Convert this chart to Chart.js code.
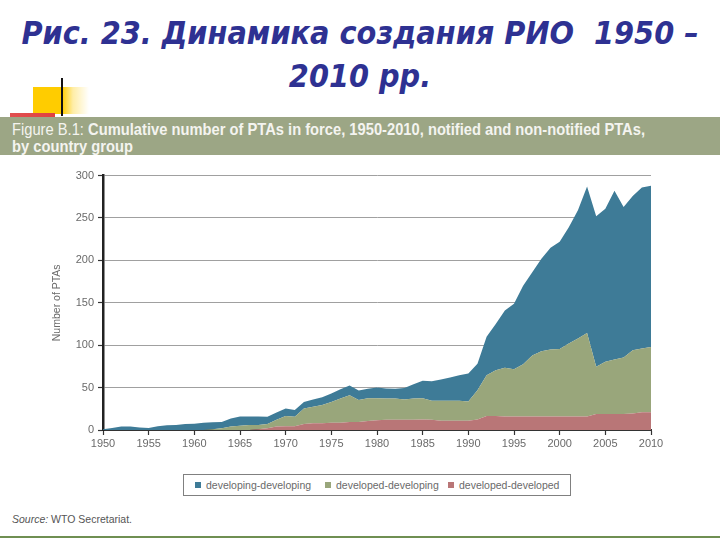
<!DOCTYPE html>
<html>
<head>
<meta charset="utf-8">
<script src="https://cdn.jsdelivr.net/npm/chart.js@4.4.1/dist/chart.umd.min.js"></script>
<style>
  html, body { margin: 0; padding: 0; background: #ffffff; }
  #page { position: relative; width: 720px; height: 540px; overflow: hidden; background: #fff; }
  #title { position: absolute; left: 0; top: 12px; width: 720px; text-align: center;
    font-family: "DejaVu Sans Condensed", "DejaVu Sans", sans-serif; font-weight: bold; font-style: italic;
    font-size: 32px; line-height: 43px; color: #2e3192; }
  #yellow { position: absolute; left: 33px; top: 87px; width: 56px; height: 27px;
    background: linear-gradient(to right, #ffcc00 0px, #ffcc00 29px, rgba(255,220,80,0.5) 40px, rgba(255,255,255,0) 56px); }
  #vline { position: absolute; left: 61px; top: 78px; width: 2px; height: 38px; background: #111; }
  #redbar { position: absolute; left: 10px; top: 113px; width: 45px; height: 4px;
    background: linear-gradient(to right, #e05050, #e04040); }
  #band { position: absolute; left: 0; top: 117px; width: 720px; height: 38px; background: #9ca685; }
  .bl { position: absolute; left: 12px; white-space: nowrap; color: #f4f4f0; transform-origin: 0 0;
    font-family: "Liberation Sans", Arial, sans-serif; font-size: 15px; line-height: 17px; }
  #bl1 { top: 120px; }
  #bl2 { top: 137px; }
  .lt { font-weight: normal; }
  .bd { font-weight: bold; }
  #chartwrap { position: absolute; left: 0; top: 165px; width: 680px; height: 287px; }
  #legend { position: absolute; left: 183px; top: 474px; width: 386px; height: 20px;
    border: 1px solid #808080; font-family: "Liberation Sans", Arial, sans-serif; font-size: 10.5px;
    color: #6a6a6a; line-height: 20px; white-space: nowrap; }
  #legend span.item { position: absolute; top: 0; }
  #legend span.sw { display: inline-block; width: 6px; height: 6px; margin-right: 5px; vertical-align: 1px; }
  #source { position: absolute; left: 12px; top: 513px; font-family: "Liberation Sans", sans-serif;
    font-size: 10.5px; color: #555; }
  #bottomline { position: absolute; left: 0; top: 536px; width: 720px; height: 2px; background: #6f8f52; }
</style>
</head>
<body>
<div id="page">
  <div id="title">Рис. 23. Динамика создания РИО&nbsp; 1950 –<br>2010 рр.</div>
  <div id="yellow"></div>
  <div id="vline"></div>
  <div id="redbar"></div>
  <div id="band"></div>
  <div class="bl" id="bl1"><span class="lt">Figure B.1: </span><span class="bd">Cumulative number of PTAs in force, 1950-2010, notified and non-notified PTAs,</span></div>
  <div class="bl" id="bl2"><span class="bd">by country group</span></div>
  <div id="chartwrap"><canvas id="c" width="680" height="287"></canvas></div>
  <div id="legend"></div>
  <div id="source"><i>Source:</i> WTO Secretariat.</div>
  <div id="bottomline"></div>
</div>
<script>
// ---- Data ----
const years = [1950,1951,1952,1953,1954,1955,1956,1957,1958,1959,
  1960,1961,1962,1963,1964,1965,1966,1967,1968,1969,
  1970,1971,1972,1973,1974,1975,1976,1977,1978,1979,
  1980,1981,1982,1983,1984,1985,1986,1987,1988,1989,
  1990,1991,1992,1993,1994,1995,1996,1997,1998,1999,
  2000,2001,2002,2003,2004,2005,2006,2007,2008,2009,2010];

// developed-developed (bottom layer)
const developedDeveloped = [0,0,0,0,0,0,0,0,0,0,
  0,0,0,0,0,0,0,1,2,4,
  4.5,4.5,7,8,8,8.5,8.5,9.5,9.5,10.5,
  11.5,12,12,12,12,12.5,12,11,11,11,
  11,12.5,16.5,16.5,16,16,16,16,16,16,
  16,16,16,16,19,19,19,19,19.5,21,21];

// developed-developing (middle layer)
const developedDeveloping = [0,0,0,0,0,0,0,0,0,0,
  0,0,1,2,4,5,6,5,5,8,
  12,11,18.5,19.5,21.5,24.5,28.5,31.5,26,27,
  26,25,25,24,25,25,22.5,23.5,23.5,23.5,
  22.5,34.5,48,54,57.5,55.5,61.5,72,77,79,
  79.5,86,92,98.5,55.5,61.5,64,66.5,74.5,75,77];

// developing-developing (top layer)
const developingDeveloping = [1,2.5,4,4,3,2.5,4.5,5.5,6,7,
  7.5,8.5,8,7.5,9.5,11,10,10,8.5,8.5,
  9,8,7.5,8.5,9,10,11,11.5,11,11,
  12.5,12,11.5,13.5,17,20.5,23,25,27.5,30,
  33,31,45.5,54.5,67.5,77.5,92.5,98,109,120,
  126.5,137,151,172.5,177.5,180.5,199,177.5,182,190,190];

const seriesLabels = ["developed-developed", "developed-developing", "developing-developing"];
const seriesColors = ["#b97677", "#99a67b", "#3e7b97"];
const yTicks = [0, 50, 100, 150, 200, 250, 300];
const xTickYears = [1950,1955,1960,1965,1970,1975,1980,1985,1990,1995,2000,2005,2010];

const seriesValues = [developedDeveloped, developedDeveloping, developingDeveloping];
const datasets = seriesValues.map((vals, i) => ({
  label: seriesLabels[i],
  data: years.map((yr, j) => ({ x: yr, y: vals[j] })),
  backgroundColor: seriesColors[i],
  borderColor: seriesColors[i],
  borderWidth: 0,
  pointRadius: 0,
  tension: 0,
  fill: i === 0 ? 'origin' : '-1'
}));

const tickFont = { family: '"Liberation Sans", Arial, sans-serif', size: 11 };

new Chart(document.getElementById('c'), {
  type: 'line',
  data: { datasets },
  options: {
    responsive: false,
    animation: false,
    events: [],
    layout: { padding: { top: 10, right: 29, left: 0, bottom: 0 } },
    plugins: { legend: { display: false }, tooltip: { enabled: false } },
    scales: {
      x: {
        type: 'linear',
        min: 1950, max: 2010,
        z: 1,
        afterBuildTicks: (s) => { s.ticks = xTickYears.map(v => ({ value: v })); },
        afterFit: (s) => { s.height = 22; },
        ticks: { callback: (v) => String(v), color: '#6a6a6a', font: tickFont, padding: 2, maxRotation: 0, autoSkip: false },
        grid: { drawOnChartArea: false, drawTicks: true, tickLength: 5, tickColor: '#333', tickWidth: 1.2 },
        border: { display: true, color: '#333', width: 2 }
      },
      y: {
        stacked: true,
        min: 0, max: 300,
        afterBuildTicks: (s) => { s.ticks = yTicks.map(v => ({ value: v })); },
        afterFit: (s) => { s.width = 103; },
        ticks: { color: '#6a6a6a', font: tickFont, padding: 4 },
        grid: { color: '#a0a0a0', lineWidth: 1, tickLength: 5, tickColor: '#333', tickWidth: 1.2 },
        border: { display: true, color: '#222', width: 2.5 },
        title: { display: true, text: 'Number of PTAs', color: '#6a6a6a',
          font: { family: '"Liberation Sans", Arial, sans-serif', size: 10.5 }, padding: { top: 51, bottom: 0 } }
      }
    }
  }
});

// HTML legend (order as in reference)
const legendOrder = [2, 1, 0];
const legendX = [11, 141, 264];
const lg = document.getElementById('legend');
legendOrder.forEach((idx, k) => {
  const it = document.createElement('span');
  it.className = 'item';
  it.style.left = legendX[k] + 'px';
  const sw = document.createElement('span');
  sw.className = 'sw';
  sw.style.background = seriesColors[idx];
  it.appendChild(sw);
  it.appendChild(document.createTextNode(seriesLabels[idx]));
  lg.appendChild(it);
});

// condense the header text to the reference width
const bl1 = document.getElementById('bl1');
const bl2 = document.getElementById('bl2');
const sx = 633 / bl1.getBoundingClientRect().width;
bl1.style.transform = 'scale(' + sx + ',1.1)';
bl2.style.transform = 'scale(' + sx + ',1.1)';
</script>
</body>
</html>
